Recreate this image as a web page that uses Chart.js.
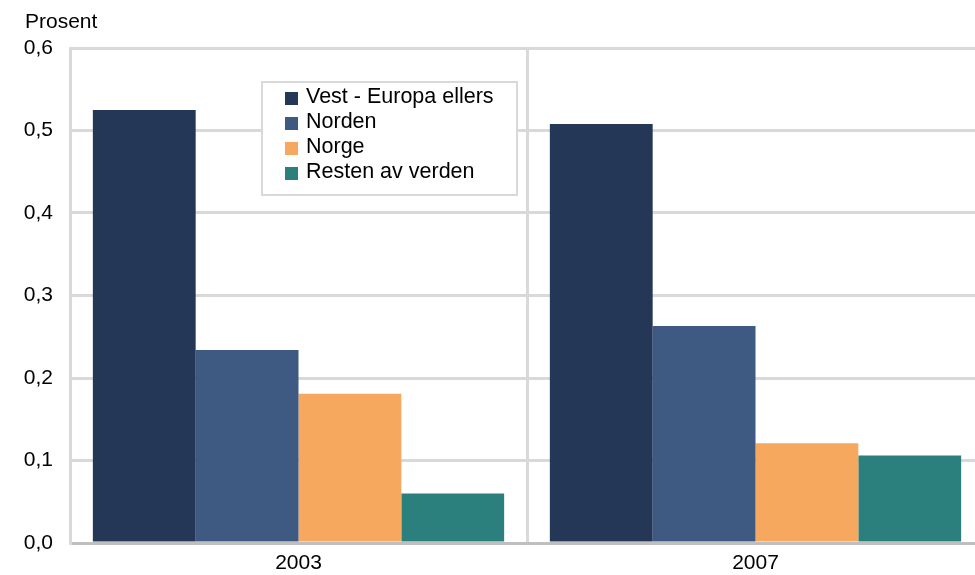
<!DOCTYPE html>
<html>
<head>
<meta charset="utf-8">
<script src="https://cdn.jsdelivr.net/npm/chart.js@4.4.1/dist/chart.umd.min.js"></script>
<style>
  html, body { margin:0; padding:0; background:#fff; overflow:hidden; }
  #wrap { width:990px; height:575px; }
</style>
</head>
<body>
<div id="wrap"><canvas id="barChart" width="990" height="575"></canvas></div>
<script>
// categories and series
const years = ['2003', '2007'];
const vestEuropa = [0.525, 0.508];
const norden = [0.234, 0.263];
const norge = [0.181, 0.121];
const resten = [0.060, 0.106];
const yTicks = [0, 0.1, 0.2, 0.3, 0.4, 0.5, 0.6];

const FONT = "'Liberation Sans', Arial, sans-serif";

// draws the "Prosent" unit label and the boxed legend inside the plot
const extras = {
  id: 'extras',
  afterDraw(chart){
    const c = chart.ctx;
    c.save();
    c.fillStyle = '#000';
    c.font = '21px ' + FONT;
    c.textBaseline = 'middle';
    c.textAlign = 'left';
    c.fillText('Prosent', 25, 22);

    // legend box
    const bx = 262, by = 82, bw = 255, bh = 113;
    c.fillStyle = '#fff';
    c.fillRect(bx, by, bw, bh);
    c.strokeStyle = '#d9d9d9';
    c.lineWidth = 2;
    c.strokeRect(bx, by, bw, bh);
    c.font = '21.5px ' + FONT;
    chart.data.datasets.forEach((ds, i) => {
      const cy = 97 + i * 25;
      c.fillStyle = ds.backgroundColor;
      c.fillRect(285, cy - 5, 13, 13);
      c.fillStyle = '#000';
      c.fillText(ds.label, 306, cy);
    });
    c.restore();
  }
};

const ctx = document.getElementById('barChart').getContext('2d');
new Chart(ctx, {
  type: 'bar',
  data: {
    labels: years,
    datasets: [
      {label:'Vest - Europa ellers', data:vestEuropa, backgroundColor:'#243756'},
      {label:'Norden', data:norden, backgroundColor:'#3e5a82'},
      {label:'Norge', data:norge, backgroundColor:'#f6a95e'},
      {label:'Resten av verden', data:resten, backgroundColor:'#2b807d'}
    ]
  },
  options: {
    responsive: false,
    animation: false,
    layout: { padding: { top: 48, right: 6, left: 0, bottom: 0 } },
    datasets: { bar: { categoryPercentage: 0.9, barPercentage: 1.0, borderWidth: 0 } },
    plugins: { legend: { display: false }, tooltip: { enabled: false } },
    scales: {
      x: {
        grid: { offset: true, color: '#d9d9d9', lineWidth: 3, drawTicks: false },
        border: { color: '#bfbfbf', width: 3 },
        ticks: { color: '#000', font: { family: FONT, size: 21 }, padding: 8 },
        afterFit(scale){ scale.height = 32; }
      },
      y: {
        min: 0, max: 0.6,
        afterBuildTicks(scale){ scale.ticks = yTicks.map(v => ({value: v})); },
        grid: {
          color: c => c.tick && c.tick.value === 0 ? '#bfbfbf' : '#d9d9d9',
          lineWidth: 3, drawTicks: false
        },
        border: { color: '#d9d9d9', width: 3 },
        ticks: {
          color: '#000', font: { family: FONT, size: 21 }, padding: 17,
          callback: v => v.toFixed(1).replace('.', ',')
        },
        afterFit(scale){ scale.width = 70; }
      }
    }
  },
  plugins: [extras]
});
</script>
</body>
</html>
